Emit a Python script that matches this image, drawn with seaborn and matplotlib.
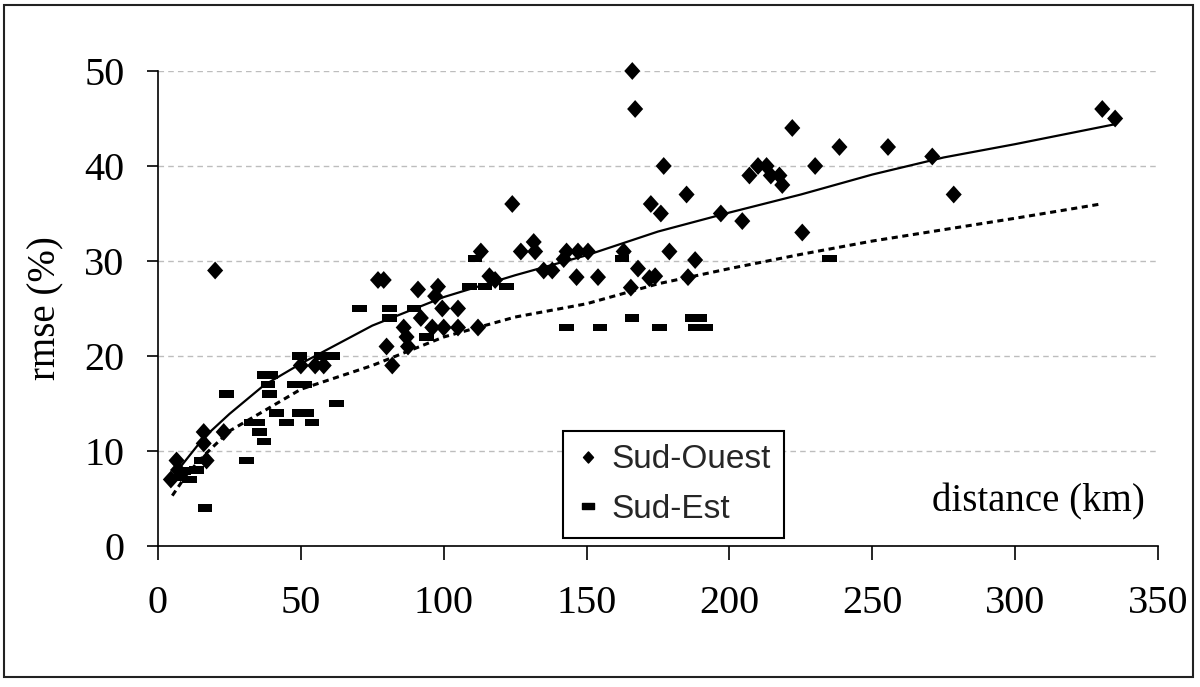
import matplotlib
matplotlib.use("Agg")
import matplotlib.pyplot as plt
import seaborn as sns
import pandas as pd
from matplotlib.path import Path
from matplotlib.lines import Line2D
from matplotlib.patches import Rectangle

# ---------------- data ----------------
so_dist = [4.5, 6.5, 7, 16, 16, 17, 20, 23,
           50, 55, 58,
           77, 79, 80, 82,
           86, 87, 87.5, 91, 92, 96, 97, 98, 99.5, 100, 105, 105, 112, 113, 116, 118,
           124, 127, 131.5, 132, 135, 138, 142, 143, 146.5, 147, 150.5, 154,
           163, 165.5, 166, 167, 168, 172, 172.5, 174, 176, 177, 179, 185, 185.5, 188,
           197, 204.5, 207, 210, 213, 214.5, 217.5, 218.5, 222, 225.5, 230, 238.5,
           255.5, 271, 278.5, 330.5, 335]
so_rmse = [7, 9, 8, 12, 10.8, 9, 29, 12,
           19, 19, 19,
           28, 28, 21, 19,
           23, 22, 21, 27, 24, 23, 26.3, 27.3, 25, 23, 25, 23, 23, 31, 28.4, 28,
           36, 31, 32, 31, 29, 29, 30.2, 31, 28.3, 31, 31, 28.3,
           31, 27.2, 50, 46, 29.2, 28.2, 36, 28.4, 35, 40, 31, 37, 28.3, 30.1,
           35, 34.2, 39, 40, 40, 39, 39, 38, 44, 33, 40, 42,
           42, 41, 37, 46, 45]

se_dist = [7, 9, 11, 13.5, 15, 16.5, 24, 31,
           32.5, 35, 35.5, 37, 37, 39.5, 38.5, 39, 41.5, 45,
           47.5, 51.5, 49.5, 49.5, 52, 54, 57, 61.3, 62.5,
           70.5, 81, 81, 89.5, 94,
           109, 111, 114.4, 122,
           143, 154.6, 162.5, 166, 175.5, 187, 189.5, 188, 191.8, 235]
se_rmse = [7.2, 7.9, 7, 8, 9, 4, 16, 9,
           13, 13, 12, 11, 18, 18, 17, 16, 14, 13,
           17, 17, 20, 14, 14, 13, 20, 20, 15,
           25, 25, 24, 25, 22,
           27.3, 30.3, 27.3, 27.3,
           23, 23, 30.3, 24, 23, 24, 24, 23, 23, 30.3]

trend_so_dist = [7, 16, 25, 37, 50, 75, 100, 125, 150, 175, 200, 225, 250, 275, 300, 320, 335]
trend_so_rmse = [8, 11.4, 13.9, 16.9, 19.2, 23.2, 26.2, 28.5, 30.6, 33.1, 35.1, 37, 39.1, 40.9, 42.3, 43.5, 44.4]
trend_se_dist = [5, 10, 16, 25, 37, 50, 75, 100, 125, 150, 175, 200, 225, 250, 275, 300, 330]
trend_se_rmse = [5.3, 7.5, 9.5, 12.1, 14.2, 16.5, 19, 22, 24.1, 25.5, 27.6, 29.2, 30.7, 32.1, 33.3, 34.5, 36.0]

series_labels = ["Sud-Ouest", "Sud-Est"]
x_ticks = [0, 50, 100, 150, 200, 250, 300, 350]
y_ticks = [0, 10, 20, 30, 40, 50]
x_title = "distance (km)"
y_title = "rmse (%)"

# ---------------- style ----------------
sns.set_style("ticks")
plt.rcParams["font.family"] = ["Liberation Serif", "DejaVu Serif"]

fig = plt.figure(figsize=(12, 6.87), dpi=100)
ax = fig.add_axes([158 / 1200, 141 / 687, 1000 / 1200, 475 / 687])

diamond = Path([(0, 1), (0.9, 0), (0, -1), (-0.9, 0), (0, 1)],
               [Path.MOVETO, Path.LINETO, Path.LINETO, Path.LINETO, Path.CLOSEPOLY])
dash = Path([(-1, -0.5), (1, -0.5), (1, 0.5), (-1, 0.5), (-1, -0.5)],
            [Path.MOVETO, Path.LINETO, Path.LINETO, Path.LINETO, Path.CLOSEPOLY])

df_so = pd.DataFrame({"distance": so_dist, "rmse": so_rmse})
df_se = pd.DataFrame({"distance": se_dist, "rmse": se_rmse})
df_tso = pd.DataFrame({"distance": trend_so_dist, "rmse": trend_so_rmse})
df_tse = pd.DataFrame({"distance": trend_se_dist, "rmse": trend_se_rmse})

sns.lineplot(data=df_tso, x="distance", y="rmse", color="black", linewidth=1.6,
             estimator=None, sort=False, ax=ax, zorder=2)
sns.lineplot(data=df_tse, x="distance", y="rmse", color="black", linewidth=2.2,
             linestyle=(0, (2.0, 1.5)), estimator=None, sort=False, ax=ax, zorder=2)

sns.scatterplot(data=df_se, x="distance", y="rmse", marker=dash, s=105, color="black",
                edgecolor="none", linewidth=0, ax=ax, zorder=3, clip_on=False)
sns.scatterplot(data=df_so, x="distance", y="rmse", marker=diamond, s=165, color="black",
                edgecolor="none", linewidth=0, ax=ax, zorder=4, clip_on=False)

ax.set_xlim(0, 350)
ax.set_ylim(0, 50)
ax.set_xticks(x_ticks)
ax.set_yticks(y_ticks)
ax.set_xticklabels([str(t) for t in x_ticks])
ax.set_yticklabels([str(t) for t in y_ticks])

ax.yaxis.grid(True, color="#bdbdbd", linestyle=(0, (4, 3)), linewidth=1.0)
ax.xaxis.grid(False)
ax.set_axisbelow(True)

for s in ["top", "right"]:
    ax.spines[s].set_visible(False)
for s in ["left", "bottom"]:
    ax.spines[s].set_color("black")
    ax.spines[s].set_linewidth(1.2)

ax.tick_params(axis="x", direction="out", length=10, width=1.2, pad=18,
               labelsize=29, colors="black")
ax.tick_params(axis="y", direction="out", length=8, width=1.2, pad=16,
               labelsize=29, colors="black")

ax.set_ylabel(y_title, fontsize=28, color="black")
ax.yaxis.set_label_coords(-0.094, 0.5)

ax.set_xlabel(x_title, fontsize=28, color="black")
ax.xaxis.label.set_ha("right")
ax.xaxis.label.set_va("baseline")
ax.xaxis.set_label_coords(0.987, 0.072)

handles = [
    Line2D([], [], marker=diamond, color="black", linestyle="none", markersize=8),
    Line2D([], [], marker=dash, color="black", linestyle="none", markersize=9),
]
leg = ax.legend(handles, series_labels, loc="lower left",
                bbox_to_anchor=(0.405, 0.0168), borderaxespad=0,
                prop={"family": "Liberation Sans", "size": 24},
                frameon=True, fancybox=False, edgecolor="black", framealpha=1,
                borderpad=0.4, labelspacing=0.55, handlelength=0.7,
                handletextpad=0.35)
leg.get_frame().set_linewidth(1.5)

fig.patches.append(Rectangle((4 / 1200, 10 / 687), 1189 / 1200, 672 / 687,
                             transform=fig.transFigure, fill=False,
                             edgecolor="#222222", linewidth=1.5, zorder=0))

fig.savefig("out.png", dpi=100, facecolor="white")
